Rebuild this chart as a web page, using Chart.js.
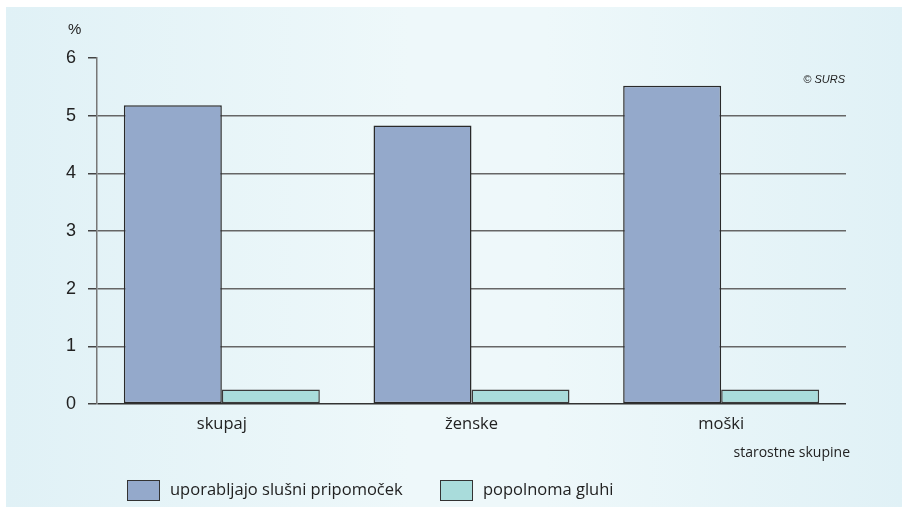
<!DOCTYPE html>
<html>
<head>
<meta charset="utf-8">
<script src="https://cdn.jsdelivr.net/npm/chart.js@4"></script>
<style>
  html, body { margin: 0; padding: 0; background: #fff; }
  #wrap { position: relative; width: 902px; height: 507px; overflow: hidden; }
  #panel {
    position: absolute; left: 6px; top: 7px; right: -2px; bottom: -2px;
    background: linear-gradient(90deg, #e0f1f6 0%, #eef8fa 45%, #eef8fa 60%, #e0f1f6 100%);
  }
  canvas { position: absolute; left: 0; top: 0; }
</style>
</head>
<body>
<div id="wrap">
  <div id="panel"></div>
  <canvas id="chart" width="902" height="507"></canvas>
</div>
<script>
// ==================== DATA ====================
const categories = ["skupaj", "ženske", "moški"];
const hearingAid = [5.18, 4.83, 5.52];
const deaf = [0.25, 0.25, 0.25];
const seriesNames = ["uporabljajo slušni pripomoček", "popolnoma gluhi"];
const yTicks = [0, 1, 2, 3, 4, 5, 6];

const colors = ["#94a9cb", "#a9dcdb"];
const textFont = "'Open Sans', 'Noto Sans', sans-serif";
const numFont = "'Liberation Sans', Arial, sans-serif";

// ==================== EXTRA TEXT + LEGEND ====================
const extras = {
  id: "extras",
  afterDraw(chart) {
    const ctx = chart.ctx;
    const area = chart.chartArea;
    ctx.save();
    ctx.fillStyle = "#222";
    ctx.textBaseline = "middle";

    ctx.font = "15px " + numFont;
    ctx.textAlign = "left";
    ctx.fillText("%", 68, 30);

    ctx.font = "italic 11px " + numFont;
    ctx.textAlign = "right";
    ctx.fillText("© SURS", area.right - 1, 80);

    ctx.font = "14px " + textFont;
    ctx.fillText("starostne skupine", 850, 453);

    // legend
    const legendX = [127, 440];
    ctx.font = "16.5px " + textFont;
    ctx.textAlign = "left";
    seriesNames.forEach((name, i) => {
      const x = legendX[i];
      ctx.fillStyle = colors[i];
      ctx.fillRect(x, 480, 32, 20);
      ctx.strokeStyle = "#333";
      ctx.lineWidth = 1;
      ctx.strokeRect(x + 0.5, 480.5, 32, 20);
      ctx.fillStyle = "#222";
      ctx.fillText(name, x + 43, 490);
    });
    ctx.restore();
  }
};

// ==================== CHART ====================
new Chart(document.getElementById("chart"), {
  type: "bar",
  data: {
    labels: categories,
    datasets: [
      { label: seriesNames[0], data: hearingAid, backgroundColor: colors[0], borderColor: "#2a2a2a", borderWidth: 1.5, borderSkipped: false },
      { label: seriesNames[1], data: deaf, backgroundColor: colors[1], borderColor: "#3a3a3a", borderWidth: 1.5, borderSkipped: false }
    ]
  },
  options: {
    responsive: false,
    animation: false,
    events: [],
    layout: { padding: { left: 0, top: 58, right: 56, bottom: 0 } },
    datasets: { bar: { categoryPercentage: 0.785, barPercentage: 1 } },
    plugins: { legend: { display: false }, tooltip: { enabled: false } },
    scales: {
      x: {
        grid: { display: false },
        border: { display: false },
        ticks: { color: "#222", font: { family: textFont, size: 16.5 }, padding: 2 },
        afterFit: s => { s.height = 103; }
      },
      y: {
        min: 0, max: 6,
        afterBuildTicks: s => { s.ticks = yTicks.map(v => ({ value: v })); },
        afterFit: s => { s.width = 97; },
        grid: {
          color: c => c.tick && c.tick.value === 6 ? "rgba(0,0,0,0)" : (c.tick && c.tick.value === 0 ? "#333" : "#666"),
          tickColor: "#444",
          tickLength: 9,
          lineWidth: 1.5
        },
        border: { display: true, color: "#777", width: 1.5 },
        ticks: { color: "#222", font: { family: numFont, size: 18 }, padding: 12 }
      }
    }
  },
  plugins: [extras]
});
</script>
</body>
</html>
